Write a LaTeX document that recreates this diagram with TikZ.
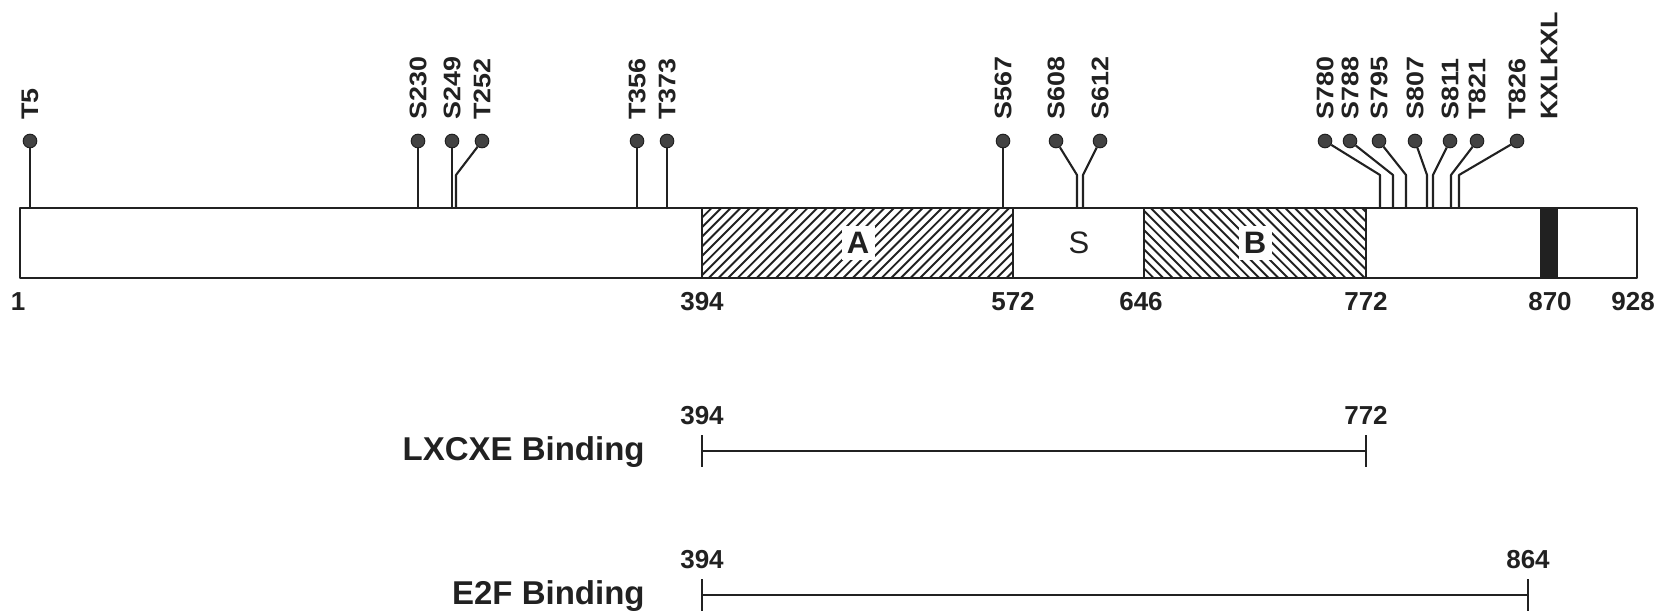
\documentclass[tikz,border=0pt]{standalone}
\usepackage{fontspec}
\setmainfont{Liberation Sans}
\newfontfamily\sitefont[FakeStretch=1.12]{Liberation Sans}
\definecolor{ink}{gray}{0.13}
\begin{document}
\begin{tikzpicture}[x=0.5pt,y=-0.5pt,line join=round,
  every node/.style={text=ink,inner sep=0pt},
  sitelab/.style={rotate=90,anchor=west,font=\sitefont\bfseries\fontsize{12}{12}\selectfont},
  numlab/.style={anchor=base,font=\bfseries\fontsize{13}{13}\selectfont},
  bindlab/.style={anchor=base east,font=\bfseries\fontsize{16.5}{16.5}\selectfont},
  domlab/.style={font=\fontsize{15.5}{15.5}\selectfont},
  dombox/.style={domlab,font=\bfseries\fontsize{15.5}{15.5}\selectfont,fill=white,minimum width=16.5pt,minimum height=17pt},
  dotnode/.style={circle,fill=ink!85,draw=ink,line width=0.5pt,minimum size=6.8pt,inner sep=0pt},
  stem/.style={draw=ink,line width=1.05pt},
  barline/.style={draw=ink,line width=1.4pt},
  hatch/.style={draw=ink,line width=0.95pt},
  bindline/.style={draw=ink,line width=1.3pt},
  tick/.style={draw=ink,line width=0.9pt}]
\useasboundingbox (0,0) rectangle (1668,615);

% hatching of domain A (/)
\begin{scope}
  \clip (702,208) rectangle (1013,278);
  \foreach \i in {0,...,40} \draw[hatch] ({632+\i*9.6},278) -- ++(70,-70);
\end{scope}
% hatching of domain B (\)
\begin{scope}
  \clip (1144,208) rectangle (1366,278);
  \foreach \i in {0,...,32} \draw[hatch] ({1074+\i*9.6},208) -- ++(70,70);
\end{scope}
% dark band
\fill[ink] (1540,208) rectangle (1558,278);
% bar outline and dividers
\draw[barline] (20,208) rectangle (1637,278);
\foreach \x in {702,1013,1144,1366} \draw[barline] (\x,208) -- (\x,278);

% domain labels
\node[dombox] (labA) at (858,243) {A};
\node[domlab] (labS) at (1079,243) {S};
\node[dombox] (labB) at (1255,243) {B};

% residue numbers
\foreach \t/\x in {1/18,394/702,572/1013,646/1141,772/1366,870/1550,928/1633}
  \node[numlab] (n\t) at (\x,310) {\t};

% phosphorylation sites
\foreach \n/\dx/\fx in {T5/30/30,S230/418/418,S249/452/452,T252/482/456,
    T356/637/637,T373/667/667,S567/1003/1003,S608/1056/1077,S612/1100/1083,
    S780/1325/1380,S788/1350/1393,S795/1379/1406,S807/1415/1427,
    S811/1450/1433,T821/1477/1451,T826/1517/1459}{
  \node[dotnode] (d\n) at (\dx,141) {};
  \node[sitelab] (t\n) at (\dx,120) {\n};
  \coordinate (b\n) at (\fx,175);
  \coordinate (f\n) at (\fx,208);
  \draw[stem] (d\n) -- (b\n) -- (f\n);
}
\node[sitelab] (tKXL) at (1549,120) {KXLKXL};

% binding regions
\node[bindlab] (lx) at (645,460) {LXCXE Binding};
\coordinate (lxa) at (702,451);
\coordinate (lxb) at (1366,451);
\draw[bindline] (lxa) -- (lxb);
\draw[tick] (702,435) -- (702,467);
\draw[tick] (1366,435) -- (1366,467);
\node[numlab] (lxn1) at (702,424) {394};
\node[numlab] (lxn2) at (1366,424) {772};

\node[bindlab] (ef) at (645,604) {E2F Binding};
\coordinate (efa) at (702,595);
\coordinate (efb) at (1528,595);
\draw[bindline] (efa) -- (efb);
\draw[tick] (702,579) -- (702,611);
\draw[tick] (1528,579) -- (1528,611);
\node[numlab] (efn1) at (702,568) {394};
\node[numlab] (efn2) at (1528,568) {864};
\end{tikzpicture}
\end{document}
